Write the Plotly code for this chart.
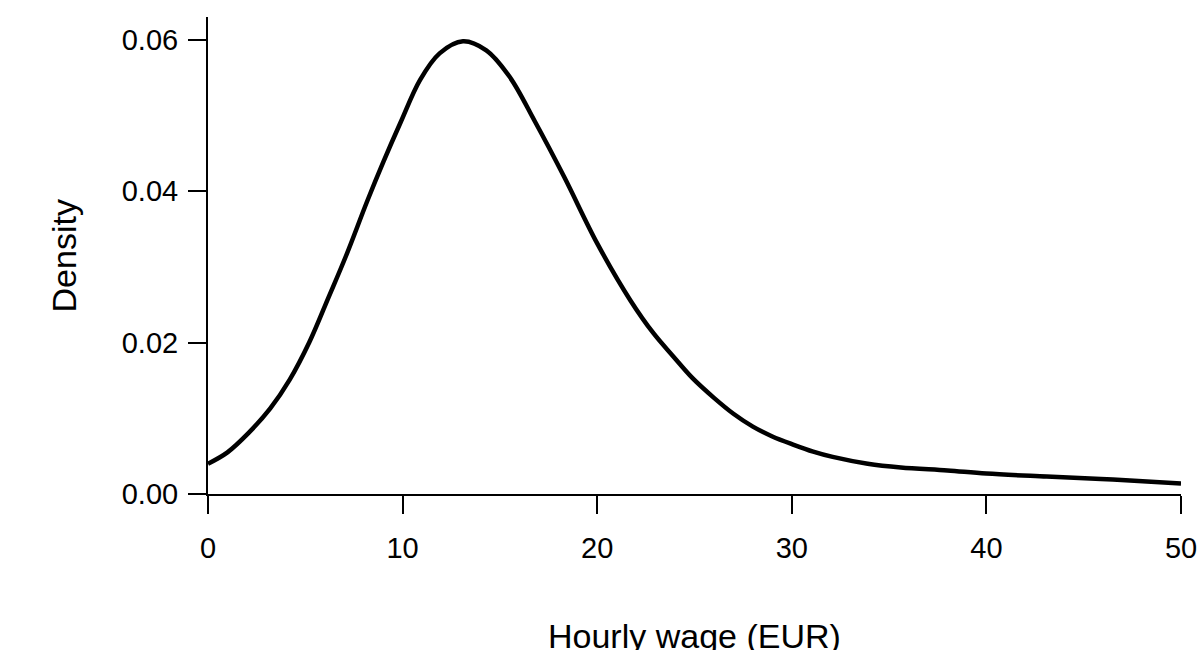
import plotly.graph_objects as go

# values
wage = [0, 1.0, 2.1, 3.2, 4.2, 5.2, 6.2, 7.1, 8.2, 9.0, 9.9, 10.9, 11.9, 13.1,
        14.3, 15.5, 16.8, 18.3, 20.0, 21.7, 22.9, 23.9, 24.9, 26.0, 27.0,
        28.0, 29.0, 30.1, 31.1, 32.1, 33.9, 35.6, 38.0, 40.0, 43.1, 46.5, 50.0]
density = [0.0040, 0.0055, 0.0081, 0.0113, 0.0151, 0.0200, 0.0260, 0.0315,
           0.0388, 0.0438, 0.0491, 0.0547, 0.0582, 0.0598, 0.0586, 0.0551,
           0.0492, 0.0419, 0.0331, 0.0256, 0.0212, 0.0182, 0.0153, 0.0127,
           0.0106, 0.0089, 0.0076, 0.0065, 0.0056, 0.0049, 0.0040, 0.0035,
           0.0031, 0.0027, 0.0023, 0.0019, 0.0014]

x_ticks = [0, 10, 20, 30, 40, 50]
y_ticks = [0.00, 0.02, 0.04, 0.06]

fig = go.Figure()
fig.add_trace(go.Scatter(x=wage, y=density, mode='lines',
                         line=dict(color='black', width=4.5, shape='spline', smoothing=1.0),
                         showlegend=False, hoverinfo='skip'))

fnt = dict(family='Liberation Sans, Arial, sans-serif', color='black')

fig.update_layout(
    width=1200, height=650,
    paper_bgcolor='white', plot_bgcolor='white',
    margin=dict(l=208, r=19, t=17, b=156),
    font=fnt,
    xaxis=dict(range=[0, 50], tickvals=x_ticks, showgrid=False, zeroline=False,
               showline=True, linecolor='black', linewidth=2, automargin=False,
               ticks='outside', ticklen=18, tickwidth=2, tickcolor='black',
               tickfont=dict(size=29, **fnt), ticklabelstandoff=9),
    yaxis=dict(range=[0, 0.063], tickvals=y_ticks, tickformat='.2f', showgrid=False,
               zeroline=False, showline=True, linecolor='black', linewidth=2,
               automargin=False,
               ticks='outside', ticklen=18, tickwidth=2, tickcolor='black',
               tickfont=dict(size=29, **fnt), ticklabelstandoff=4),
    annotations=[
        dict(text='Hourly wage (EUR)', xref='paper', yref='paper', x=0.5, y=-0.298,
             xanchor='center', yanchor='middle', showarrow=False,
             font=dict(size=34, **fnt)),
        dict(text='Density', xref='paper', yref='paper', x=-0.148, y=0.5,
             xanchor='center', yanchor='middle', textangle=-90, showarrow=False,
             font=dict(size=34, **fnt)),
    ],
)

# page body has a default 8px margin; drop it so the figure sits at 0,0
fig.write_html("out.html", config={'displayModeBar': False},
               post_script="document.body.style.margin='0';")
